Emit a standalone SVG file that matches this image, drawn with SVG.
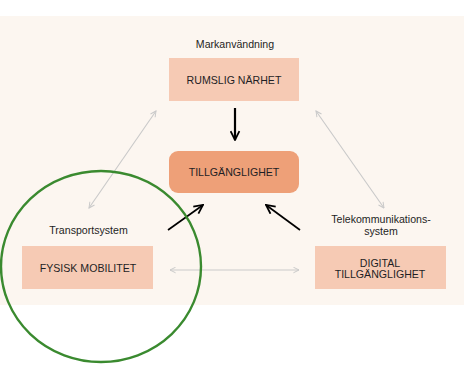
<svg xmlns="http://www.w3.org/2000/svg" width="464" height="365" viewBox="0 0 464 365">
<style>
text{font-family:"Liberation Sans",Arial,sans-serif;font-size:10.6px;fill:#1e1e24;text-anchor:middle}
.box{fill:#f6cab4}
.core{fill:#eea078}
.gray{stroke:#c9c9c9;stroke-width:1.1;fill:none;marker-start:url(#g);marker-end:url(#g)}
.blk{stroke:#000;stroke-width:1.7;fill:none;marker-end:url(#b)}
</style>
<defs>
<marker id="g" viewBox="0 0 10 10" refX="9" refY="5" markerWidth="7" markerHeight="7" markerUnits="userSpaceOnUse" orient="auto-start-reverse"><path d="M1,1 L9,5 L1,9" fill="none" stroke="#c9c9c9" stroke-width="1.4"/></marker>
<marker id="b" viewBox="0 0 10 10" refX="9" refY="5" markerWidth="11" markerHeight="11" markerUnits="userSpaceOnUse" orient="auto"><path d="M1,1 L9,5 L1,9" fill="none" stroke="#000" stroke-width="1.6"/></marker>
</defs>
<rect x="0" y="16" width="464" height="289" fill="#fcf6f0"/>
<g id="connectors">
<line class="gray" x1="156" y1="111" x2="89" y2="208"/>
<line class="gray" x1="316" y1="111" x2="384" y2="208"/>
<line class="gray" x1="170" y1="270" x2="299" y2="270"/>
<line class="blk" x1="235" y1="108" x2="235" y2="140" style="stroke-width:2.2"/>
<line class="blk" x1="168" y1="230" x2="203" y2="205"/>
<line class="blk" x1="300" y1="230" x2="266" y2="205"/>
</g>
<g id="rumslig">
<text x="235" y="48">Markanvändning</text>
<rect class="box" x="169" y="58" width="130" height="43"/>
<text x="234" y="84">RUMSLIG NÄRHET</text>
</g>
<g id="tillganglighet">
<rect class="core" x="169" y="151" width="130" height="42" rx="9"/>
<text x="234" y="176">TILLGÄNGLIGHET</text>
</g>
<g id="fysisk">
<text x="88.5" y="234">Transportsystem</text>
<rect class="box" x="22" y="246" width="131" height="43"/>
<text x="88" y="272">FYSISK MOBILITET</text>
</g>
<g id="digital">
<text x="381" y="223">Telekommunikations-</text>
<text x="381" y="234.5">system</text>
<rect class="box" x="315" y="246" width="131" height="43"/>
<text x="380" y="266.5">DIGITAL</text>
<text x="380" y="277.5">TILLGÄNGLIGHET</text>
</g>
<g id="circle">
<ellipse cx="101" cy="266.5" rx="100" ry="95.5" fill="none" stroke="#3a8a2f" stroke-width="2.4"/>
</g>
</svg>
